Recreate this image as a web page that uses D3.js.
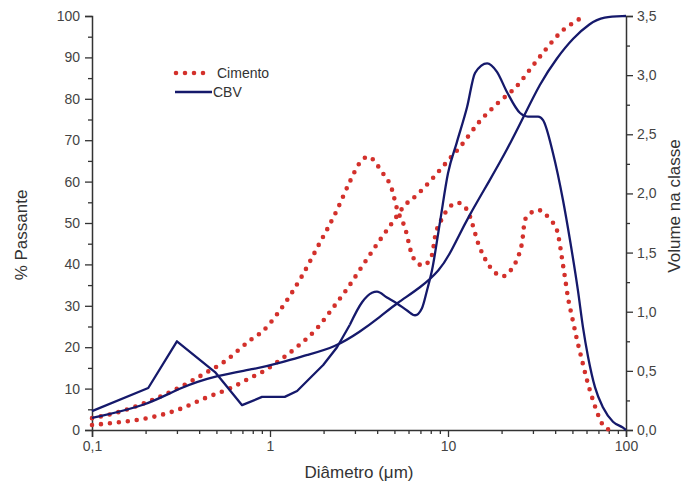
<!DOCTYPE html>
<html>
<head>
<meta charset="utf-8">
<script src="https://cdnjs.cloudflare.com/ajax/libs/d3/7.8.5/d3.min.js"></script>
<style>
  body { margin: 0; background: #fff; }
  svg { display: block; font-family: "Liberation Sans", Arial, sans-serif; }
  .axis path, .axis line { stroke: #333; }
  .axis text { fill: #444; font-size: 14px; }
</style>
</head>
<body>
<svg id="chart" width="683" height="490"></svg>
<script>
// Cimento: volume per class (right axis) and cumulative passing (left axis)
var cimentoVolX = [0.1, 0.14, 0.207, 0.292, 0.432, 0.545, 0.792, 0.902, 1.11, 1.30, 1.51, 1.84, 2.38, 2.81, 3.20, 3.55, 4.26, 4.85, 5.17, 5.73, 6.36, 7.24, 8.13, 8.45, 9.37, 10.1, 11.4, 12.8, 15.1, 17.2, 20.4, 23.2, 24.7, 26.1, 27.1, 32.1, 37.4, 40.9, 42.6, 43.7, 45.4, 47.2, 49.7, 53.1, 56.6, 60.4, 65.3, 70.5, 74.3, 81.3];
var cimentoVolY = [0.10, 0.15, 0.24, 0.34, 0.48, 0.57, 0.77, 0.83, 0.99, 1.14, 1.30, 1.54, 1.86, 2.10, 2.26, 2.31, 2.18, 2.03, 1.87, 1.71, 1.46, 1.39, 1.48, 1.63, 1.80, 1.88, 1.92, 1.86, 1.54, 1.38, 1.30, 1.38, 1.46, 1.59, 1.78, 1.86, 1.78, 1.69, 1.56, 1.45, 1.29, 1.12, 0.96, 0.76, 0.59, 0.42, 0.25, 0.11, 0.04, 0];

var cimentoPassX = [0.1, 0.13, 0.207, 0.30, 0.432, 0.62, 0.792, 0.902, 1.14, 1.44, 1.84, 2.23, 2.71, 3.42, 4.04, 4.85, 5.73, 6.70, 8.24, 10.3, 11.7, 15.1, 19.1, 24.4, 29.6, 36.0, 44.3, 50.4, 57.3];
var cimentoPassY = [1.2, 1.7, 2.9, 4.8, 7.7, 10.4, 12.8, 14.0, 16.9, 20.3, 24.6, 29.2, 34.1, 40.6, 45.2, 50.0, 54.3, 56.8, 60.9, 65.7, 68.4, 74.6, 79.0, 83.1, 87.7, 92.3, 96.6, 98.3, 99.8];

// CBV
var cbvPassX = [0.1, 0.207, 0.304, 0.511, 0.824, 1.18, 1.61, 2.32, 3.20, 4.15, 5.17, 6.97, 9.02, 10.3, 11.2, 12.9, 17.2, 21.4, 26.1, 32.9, 40.9, 50.4, 62.8, 74.3, 100];
var cbvPassY = [2.9, 6.0, 10.1, 13.3, 14.7, 16.4, 18.1, 20.0, 23.7, 27.3, 30.7, 34.3, 38.6, 42.8, 45.9, 51.2, 60.4, 67.6, 74.9, 83.8, 89.9, 94.7, 98.3, 99.8, 100];

var cbvVolX = [0.1, 0.207, 0.30, 0.491, 0.697, 0.902, 1.21, 1.42, 1.68, 1.99, 2.38, 2.81, 3.29, 3.74, 3.99, 4.54, 5.17, 5.89, 6.53, 7.14, 7.62, 8.13, 9.02, 10.0, 11.2, 12.8, 14.2, 16.6, 18.8, 21.4, 25.4, 28.1, 32.1, 34.2, 38.9, 44.3, 48.4, 53.7, 57.3, 61.2, 67.0, 74.3, 84.5, 96.2, 100];
var cbvVolY = [0.16, 0.355, 0.75, 0.49, 0.21, 0.28, 0.28, 0.33, 0.44, 0.55, 0.70, 0.89, 1.08, 1.16, 1.17, 1.12, 1.07, 1.01, 0.97, 1.03, 1.18, 1.35, 1.76, 2.17, 2.43, 2.73, 3.02, 3.10, 3.03, 2.86, 2.68, 2.65, 2.65, 2.62, 2.34, 1.94, 1.61, 1.18, 0.87, 0.62, 0.36, 0.19, 0.07, 0.02, 0];

// Ticks
var xTicks = [0.1, 1, 10, 100];
var xTickLabels = ['0,1', '1', '10', '100'];
var leftTicks = [0, 10, 20, 30, 40, 50, 60, 70, 80, 90, 100];
var rightTicks = [0, 0.5, 1, 1.5, 2, 2.5, 3, 3.5];
var rightTickLabels = ['0,0', '0,5', '1,0', '1,5', '2,0', '2,5', '3,0', '3,5'];

var RED = '#d3302b', BLUE = '#15196b';
var L = 92, R = 626, T = 16, B = 430;

var svg = d3.select('#chart');
var x = d3.scaleLog().domain([0.1, 100]).range([L, R]);
var yL = d3.scaleLinear().domain([0, 100]).range([B, T]);
var yR = d3.scaleLinear().domain([0, 3.5]).range([B, T]);

function zip(xs, ys) { return xs.map(function(v, i) { return [v, ys[i]]; }); }

// minor ticks
var xMinor = [];
[0.1, 1, 10].forEach(function(d) { for (var k = 2; k <= 9; k++) xMinor.push(d * k); });
var leftMinor = d3.range(5, 100, 10);
var rightMinor = d3.range(0.25, 3.5, 0.5);

function minorAxis(axis, vals) {
  return axis.tickValues(vals).tickSize(4).tickFormat('');
}

svg.append('g').attr('class', 'axis').attr('transform', 'translate(0,' + B + ')')
  .call(minorAxis(d3.axisBottom(x), xMinor)).select('.domain').remove();
svg.append('g').attr('class', 'axis').attr('transform', 'translate(0,' + B + ')')
  .call(d3.axisBottom(x).tickValues(xTicks).tickSize(7).tickPadding(4)
    .tickFormat(function(d, i) { return xTickLabels[i]; }));

svg.append('g').attr('class', 'axis').attr('transform', 'translate(' + L + ',0)')
  .call(minorAxis(d3.axisLeft(yL), leftMinor)).select('.domain').remove();
svg.append('g').attr('class', 'axis').attr('transform', 'translate(' + L + ',0)')
  .call(d3.axisLeft(yL).tickValues(leftTicks).tickSize(7).tickPadding(5));

svg.append('g').attr('class', 'axis').attr('transform', 'translate(' + R + ',0)')
  .call(minorAxis(d3.axisRight(yR), rightMinor)).select('.domain').remove();
svg.append('g').attr('class', 'axis').attr('transform', 'translate(' + R + ',0)')
  .call(d3.axisRight(yR).tickValues(rightTicks).tickSize(7).tickPadding(4)
    .tickFormat(function(d, i) { return rightTickLabels[i]; }));

svg.selectAll('.axis path.domain').attr('stroke-width', 1.5);
svg.selectAll('.axis .tick line').attr('stroke-width', 1.3);

// lines
var lineL = d3.line().x(function(d) { return x(d[0]); }).y(function(d) { return yL(d[1]); }).curve(d3.curveMonotoneX);
var lineLSmooth = d3.line().x(function(d) { return x(d[0]); }).y(function(d) { return yL(d[1]); }).curve(d3.curveBasis);
var lineR = d3.line().x(function(d) { return x(d[0]); }).y(function(d) { return yR(d[1]); }).curve(d3.curveMonotoneX);
var lineRLin = d3.line().x(function(d) { return x(d[0]); }).y(function(d) { return yR(d[1]); });

function dotted(sel) {
  return sel.attr('fill', 'none').attr('stroke', RED).attr('stroke-width', 4.6)
    .attr('stroke-linecap', 'round').attr('stroke-dasharray', '0 9');
}

dotted(svg.append('path').attr('d', lineR(zip(cimentoVolX, cimentoVolY))));
dotted(svg.append('path').attr('d', lineL(zip(cimentoPassX, cimentoPassY))));

svg.append('path').attr('d', lineLSmooth(zip(cbvPassX, cbvPassY)))
  .attr('fill', 'none').attr('stroke', BLUE).attr('stroke-width', 2.3);

// CBV volume: straight segments for the fine classes, smooth for the rest
var cbvVol = zip(cbvVolX, cbvVolY);
var split = 11;
svg.append('path').attr('d', lineRLin(cbvVol.slice(0, split + 1)))
  .attr('fill', 'none').attr('stroke', BLUE).attr('stroke-width', 2.3).attr('stroke-linejoin', 'round');
svg.append('path').attr('d', lineR(cbvVol.slice(split)))
  .attr('fill', 'none').attr('stroke', BLUE).attr('stroke-width', 2.3).attr('stroke-linejoin', 'round');

// legend
dotted(svg.append('line').attr('x1', 176).attr('x2', 204).attr('y1', 73).attr('y2', 73));
svg.append('text').attr('x', 217).attr('y', 78).attr('font-size', 14).attr('fill', '#333').text('Cimento');
svg.append('line').attr('x1', 175).attr('x2', 212).attr('y1', 92).attr('y2', 92)
  .attr('stroke', BLUE).attr('stroke-width', 2.5);
svg.append('text').attr('x', 213).attr('y', 97).attr('font-size', 14).attr('fill', '#333').text('CBV');

// axis titles
svg.append('text').attr('transform', 'translate(27,235) rotate(-90)').attr('text-anchor', 'middle')
  .attr('font-size', 17).attr('fill', '#333').text('% Passante');
svg.append('text').attr('transform', 'translate(680,206) rotate(-90)').attr('text-anchor', 'middle')
  .attr('font-size', 17).attr('fill', '#333').text('Volume na classe');
svg.append('text').attr('x', 359).attr('y', 478).attr('text-anchor', 'middle')
  .attr('font-size', 17).attr('fill', '#333').text('Diâmetro (μm)');
</script>
</body>
</html>
